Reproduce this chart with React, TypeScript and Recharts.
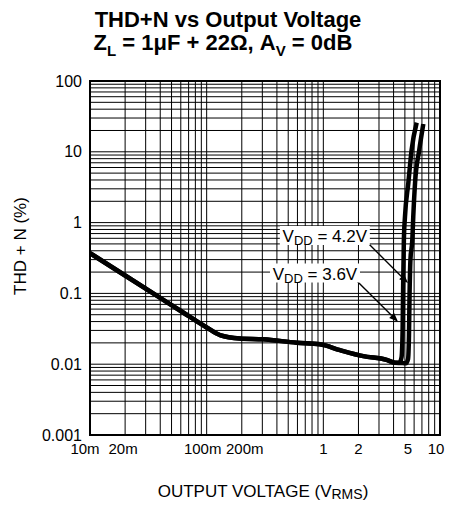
import React from "react";
import {
  CartesianGrid,
  Line,
  LineChart,
  ReferenceArea,
  ReferenceDot,
  ReferenceLine,
  XAxis,
  YAxis,
} from "recharts";

const FONT = "'Liberation Sans', Arial, Helvetica, sans-serif";

// shared low-level part of both curves (Vrms, THD+N %)
const baseVout = [0.01, 0.02, 0.0373, 0.06, 0.1, 0.13, 0.193, 0.306, 0.591, 0.935, 1.39, 2.2, 3.49, 4.11];
const baseThd = [0.37, 0.179, 0.093, 0.0564, 0.033, 0.0258, 0.0231, 0.0225, 0.0201, 0.0191, 0.0158, 0.013, 0.0115, 0.0105];

// clipping part, VDD = 3.6V
const vdd36Vout = [4.5, 4.68, 4.78, 4.83, 4.9, 5.01, 5.35, 5.71, 6.31];
const vdd36Thd = [0.0106, 0.0125, 0.03, 0.12, 0.55, 1.21, 3.6, 10.6, 25.8];

// clipping part, VDD = 4.2V
const vdd42Vout = [4.6, 5.1, 5.32, 5.42, 5.48, 5.58, 5.79, 5.9, 6.11, 6.64, 7.19];
const vdd42Thd = [0.0104, 0.0103, 0.0118, 0.025, 0.09, 0.3, 0.57, 1.21, 3.6, 10.6, 24.7];

const xMajor: Record<string, string> = {
  "0.01": "10m", "0.02": "20m", "0.1": "100m", "0.2": "200m",
  "1": "1", "2": "2", "5": "5", "10": "10",
};
// small horizontal nudges of the x labels, as in the original print
const xNudge: Record<string, number> = { "10m": -5, "20m": -2, "100m": -4, "200m": 3, "5": 3, "10": -4 };
const yMajor = ["0.001", "0.01", "0.1", "1", "10", "100"];

// annotation anchors in data units
const tag42 = { x: 1.03, y: 0.647, label: "4.2V" };
const tag36 = { x: 0.848, y: 0.191, label: "3.6V" };
const arrow42 = [{ x: 2.41, y: 0.515 }, { x: 5.32, y: 0.14 }];
const arrow36 = [{ x: 1.94, y: 0.15 }, { x: 4.37, y: 0.0398 }];

function logTicks(lo: number, hi: number) {
  const out: number[] = [];
  for (let e = lo; e < hi; e++) {
    for (let m = 1; m < 10; m++) out.push(Number((m * Math.pow(10, e)).toPrecision(3)));
  }
  out.push(Math.pow(10, hi));
  return out;
}
const xTicks = logTicks(-2, 1);
const yTicks = logTicks(-3, 2);

const zip = (xs: number[], ys: number[]) => xs.map((x, i) => ({ x, y: ys[i] }));
const curve36 = [...zip(baseVout, baseThd), ...zip(vdd36Vout, vdd36Thd)];
const curve42 = [...zip(baseVout, baseThd), ...zip(vdd42Vout, vdd42Thd)];

function XTick(p: any) {
  const label = xMajor[String(p.payload.value)];
  if (!label) return null;
  return (
    <text
      x={p.x + (xNudge[label] ?? 0)}
      y={p.y}
      dy="0.71em"
      textAnchor="middle"
      fontFamily={FONT}
      fontSize={15}
      fill="#000"
    >
      {label}
    </text>
  );
}

function Tag({ cx, cy, label }: { cx: number; cy: number; label: string }) {
  return (
    <g>
      <rect x={cx - 45} y={cy - 10} width={90} height={19} fill="#fff" />
      <text x={cx} y={cy + 6} textAnchor="middle" fontFamily={FONT} fontSize={17} fill="#000">
        V
        <tspan fontSize={13} dy={3}>DD</tspan>
        <tspan dy={-3}>{` = ${label}`}</tspan>
      </text>
    </g>
  );
}

function Arrow(p: any) {
  const { x1, y1, x2, y2 } = p;
  const a = Math.atan2(y2 - y1, x2 - x1);
  const len = 9;
  const w = 3.5;
  const bx = x2 - len * Math.cos(a);
  const by = y2 - len * Math.sin(a);
  const nx = -Math.sin(a) * w;
  const ny = Math.cos(a) * w;
  return (
    <g>
      <line x1={x1} y1={y1} x2={bx} y2={by} stroke="#000" strokeWidth={1.4} />
      <polygon points={`${x2},${y2} ${bx + nx},${by + ny} ${bx - nx},${by - ny}`} fill="#000" />
    </g>
  );
}

export default function App() {
  return (
    <div style={{ position: "absolute", left: 0, top: 0, width: 453, height: 506, background: "#fff" }}>
      <LineChart
        width={453}
        height={506}
        margin={{ top: 81, right: 13, left: 30, bottom: 41 }}
      >
        <CartesianGrid stroke="#000" strokeWidth={1} />
        <XAxis
          dataKey="x"
          type="number"
          scale="log"
          domain={[0.01, 10]}
          ticks={xTicks}
          interval={0}
          allowDataOverflow
          axisLine={false}
          tickLine={false}
          height={30}
          tick={<XTick />}
        />
        <YAxis
          type="number"
          scale="log"
          domain={[0.001, 100]}
          ticks={yTicks}
          interval={0}
          allowDataOverflow
          axisLine={false}
          tickLine={false}
          width={60}
          tickFormatter={(v: number) => (yMajor.includes(String(v)) ? String(v) : "")}
          tick={{ fontSize: 16, fill: "#000", fontFamily: FONT }}
        />
        <ReferenceArea x1={0.01} x2={10} y1={0.001} y2={100} fill="none" stroke="#000" strokeWidth={2} />
        <Line
          data={curve36}
          dataKey="y"
          type="monotone"
          stroke="#000"
          strokeWidth={4.5}
          dot={false}
          isAnimationActive={false}
        />
        <Line
          data={curve42}
          dataKey="y"
          type="monotone"
          stroke="#000"
          strokeWidth={4.5}
          dot={false}
          isAnimationActive={false}
        />
        <ReferenceDot
          x={tag42.x}
          y={tag42.y}
          shape={(p: any) => <Tag cx={p.cx} cy={p.cy} label={tag42.label} />}
        />
        <ReferenceDot
          x={tag36.x}
          y={tag36.y}
          shape={(p: any) => <Tag cx={p.cx} cy={p.cy} label={tag36.label} />}
        />
        <ReferenceLine segment={arrow42} shape={(p: any) => <Arrow {...p} />} />
        <ReferenceLine segment={arrow36} shape={(p: any) => <Arrow {...p} />} />
      </LineChart>
      <svg
        width={453}
        height={506}
        style={{ position: "absolute", left: 0, top: 0, pointerEvents: "none" }}
        fontFamily={FONT}
        fill="#000"
      >
        <text x={228} y={27} textAnchor="middle" fontSize={22} fontWeight="bold">
          THD+N vs Output Voltage
        </text>
        <text x={223} y={50} textAnchor="middle" fontSize={22} fontWeight="bold">
          Z<tspan fontSize={15} dy={6}>L</tspan>
          <tspan dy={-6}> = 1μF + 22Ω, A</tspan>
          <tspan fontSize={15} dy={6}>V</tspan>
          <tspan dy={-6}> = 0dB</tspan>
        </text>
        <text transform="translate(26,246) rotate(-90)" textAnchor="middle" fontSize={17}>
          THD + N (%)
        </text>
        <text x={263} y={497} textAnchor="middle" fontSize={17}>
          OUTPUT VOLTAGE (V<tspan fontSize={14} dy={2}>RMS</tspan>
          <tspan dy={-2}>)</tspan>
        </text>
      </svg>
    </div>
  );
}
